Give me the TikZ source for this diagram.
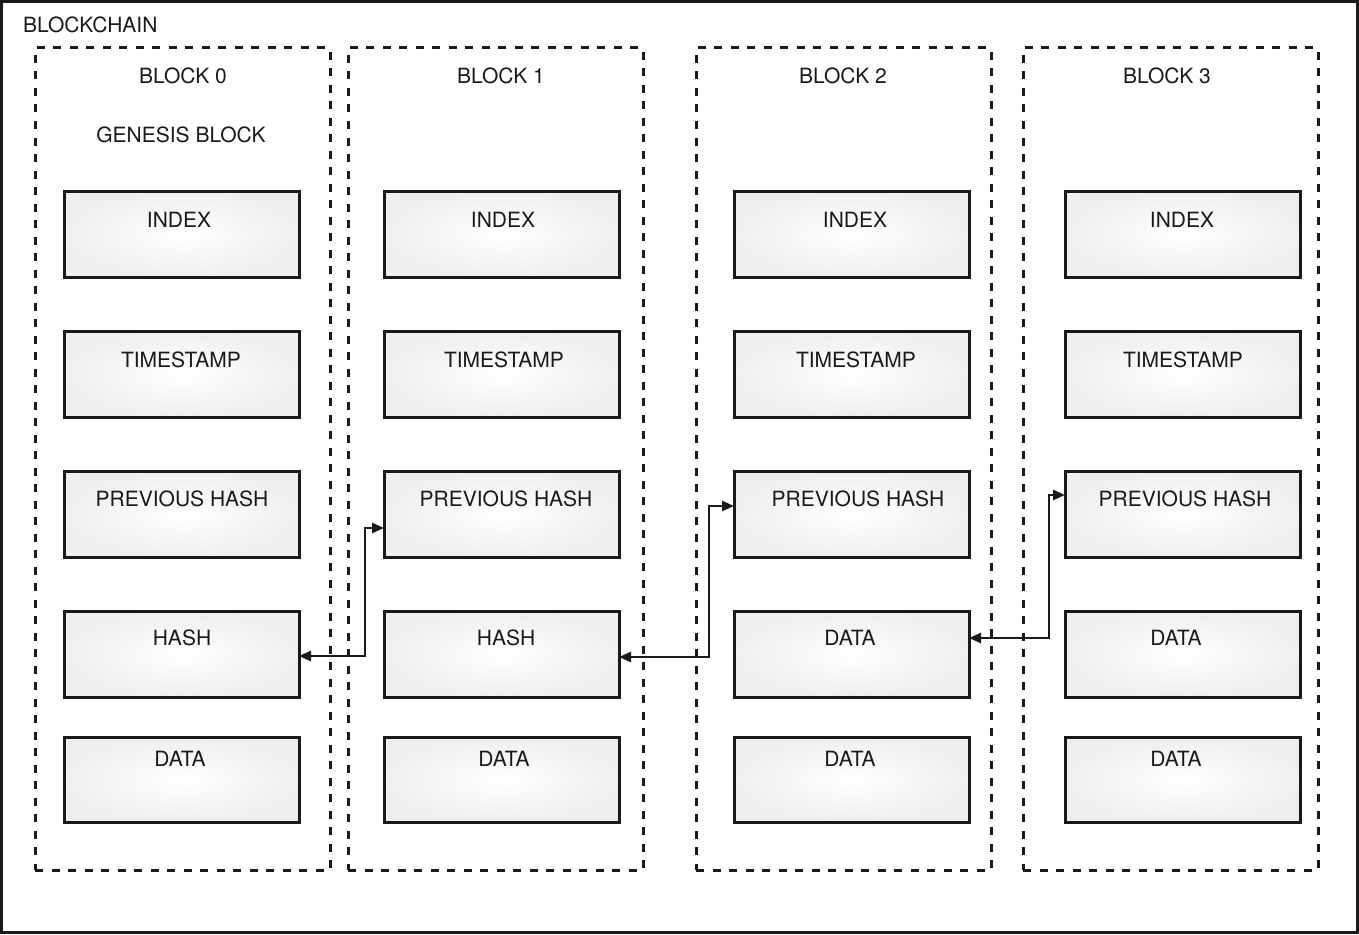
\documentclass[tikz,border=0pt]{standalone}
\usepackage{fontspec}
\setmainfont{TeX Gyre Heros}
\usetikzlibrary{arrows.meta}
\definecolor{ink}{HTML}{1A1A1A}
\tikzset{
  box/.style={draw=ink, line width=3pt, rectangle, minimum width=235pt, minimum height=86pt,
    inner sep=0pt, outer sep=0pt, inner color=white, outer color=white!93.5!black},
  colbox/.style={draw=ink, line width=3pt, dash pattern=on 8pt off 8.5pt, rectangle,
    minimum width=295pt, minimum height=822pt, inner sep=0pt, outer sep=0pt},
  txt/.style={font=\fontsize{21}{25}\selectfont, text=ink, inner sep=0pt},
  conn/.style={draw=ink, line width=2.6pt, {Triangle[length=12pt,width=10pt]}-{Triangle[length=12pt,width=10pt]}},
}
\begin{document}
\begin{tikzpicture}[x=1pt,y=-1pt]
\useasboundingbox (0,0) rectangle (1359,934);
\draw[ink, line width=3.2pt] (1.6,1.6) rectangle (1357.4,932.4);
\node[txt, anchor=west] (title) at (23,25) {BLOCKCHAIN};
% columns
\node[colbox] (c0) at (182.5,459) {};
\node[colbox] (c1) at (495.5,459) {};
\node[colbox] (c2) at (843.5,459) {};
\node[colbox] (c3) at (1170.5,459) {};
\node[txt] (t0) at (183,76) {BLOCK 0};
\node[txt] (g0) at (181,135) {GENESIS BLOCK};
\node[txt] (t1) at (501,76) {BLOCK 1};
\node[txt] (t2) at (843,76) {BLOCK 2};
\node[txt] (t3) at (1167,76) {BLOCK 3};
% column 0
\node[box] (b0i) at (181.5,234) {};
\node[box] (b0t) at (181.5,374) {};
\node[box] (b0p) at (181.5,514) {};
\node[box] (b0h) at (181.5,654) {};
\node[box, minimum height=85pt] (b0d) at (181.5,779.5) {};
% column 1
\node[box] (b1i) at (501.5,234) {};
\node[box] (b1t) at (501.5,374) {};
\node[box] (b1p) at (501.5,514) {};
\node[box] (b1h) at (501.5,654) {};
\node[box, minimum height=85pt] (b1d) at (501.5,779.5) {};
% column 2
\node[box] (b2i) at (851.5,234) {};
\node[box] (b2t) at (851.5,374) {};
\node[box] (b2p) at (851.5,514) {};
\node[box] (b2d) at (851.5,654) {};
\node[box, minimum height=85pt] (b2e) at (851.5,779.5) {};
% column 3
\node[box] (b3i) at (1182.5,234) {};
\node[box] (b3t) at (1182.5,374) {};
\node[box] (b3p) at (1182.5,514) {};
\node[box] (b3d) at (1182.5,654) {};
\node[box, minimum height=85pt] (b3e) at (1182.5,779.5) {};
% labels
\node[txt] at (179,220) {INDEX};
\node[txt] at (181,360) {TIMESTAMP};
\node[txt] at (182,499) {PREVIOUS HASH};
\node[txt] at (182,638) {HASH};
\node[txt] at (180,759) {DATA};
\node[txt] at (503,220) {INDEX};
\node[txt] at (504,360) {TIMESTAMP};
\node[txt] at (506,499) {PREVIOUS HASH};
\node[txt] at (506,638) {HASH};
\node[txt] at (504,759) {DATA};
\node[txt] at (855,220) {INDEX};
\node[txt] at (856,360) {TIMESTAMP};
\node[txt] at (858,499) {PREVIOUS HASH};
\node[txt] at (850,638) {DATA};
\node[txt] at (850,759) {DATA};
\node[txt] at (1182,220) {INDEX};
\node[txt] at (1183,360) {TIMESTAMP};
\node[txt] at (1185,499) {PREVIOUS HASH};
\node[txt] at (1176,638) {DATA};
\node[txt] at (1176,759) {DATA};
% connectors
\draw[conn] ([yshift=-2pt]b0h.east) -- ++(66,0) |- ([yshift=-14pt]b1p.west);
\draw[conn] ([yshift=-3pt]b1h.east) -- ++(90,0) |- ([yshift=8pt]b2p.west);
\draw[conn] ([yshift=16pt]b2d.east) -- ++(80,0) |- ([yshift=19pt]b3p.west);
\end{tikzpicture}
\end{document}
